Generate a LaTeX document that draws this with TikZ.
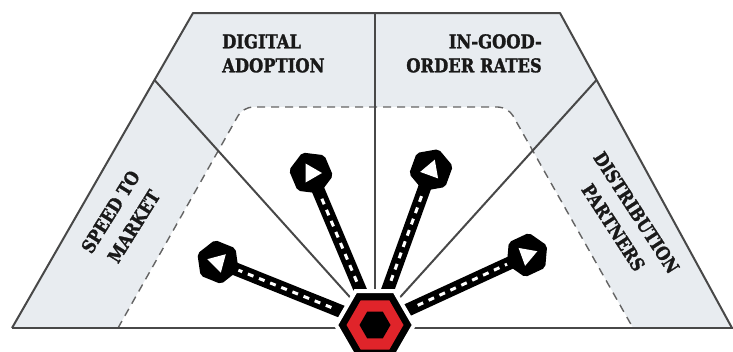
\documentclass[tikz,border=0pt]{standalone}
\usepackage{fontspec}
\newfontfamily\slab{DejaVu Serif}[FakeStretch=0.86, BoldFeatures={FakeBold=1.5}]
\usetikzlibrary{shapes.geometric,calc}
\definecolor{lineg}{RGB}{72,72,72}
\definecolor{panelg}{RGB}{232,236,240}
\definecolor{dashg}{RGB}{100,100,100}
\definecolor{hubred}{RGB}{224,36,42}
\definecolor{txt}{RGB}{25,25,25}
\begin{document}
\begin{tikzpicture}[x=1pt,y=-1pt,
  edge/.style={draw=lineg, line width=2pt, line join=round},
  dashline/.style={draw=dashg, line width=1.4pt, dash pattern=on 8pt off 6pt},
  lbl/.style={font=\slab\bfseries\fontsize{19}{24}\selectfont, text=txt, inner sep=0pt},
  rlbl/.style={font=\slab\bfseries\fontsize{18.5}{27.5}\selectfont, text=txt, inner sep=0pt, align=center},
  bar/.style={draw=black, line width=13pt},
  bardash/.style={draw=white, line width=3pt, dash pattern=on 6pt off 6pt},
  head/.style={regular polygon, regular polygon sides=6, fill=black, draw=black, line width=3pt, rounded corners=2pt, minimum size=41pt, inner sep=0pt},
  tri/.style={fill=white},
  hubhex/.style={regular polygon, regular polygon sides=6, inner sep=0pt}]
\useasboundingbox (0,0) rectangle (733,351);
% panels
\fill[panelg] (12,328) -- (193,13) -- (560,13) -- (732,328) -- cycle;
\fill[white, rounded corners=10pt] (118,328) -- (243,107) -- (508,107) -- (633,328);
\draw[dashline, rounded corners=10pt] (118,328) -- (243,107) -- (508,107) -- (633,328);
% frame and dividers
\coordinate (hc) at (375,325);
\coordinate (L) at (154.5,80);
\coordinate (T) at (375,13);
\coordinate (R) at (596.5,80);
\draw[edge] (hc) -- (L);
\draw[edge] (hc) -- (T);
\draw[edge] (hc) -- (R);
\draw[edge] (12,328) -- (193,13) -- (560,13) -- (732,328);
\draw[edge] (12,328) -- (733,328);
% labels
\node[lbl, anchor=north west, align=left] (dig) at (222,34) {DIGITAL\\ADOPTION};
\node[lbl, anchor=north east, align=right] (igo) at (542,34) {IN-GOOD-\\ORDER RATES};
\node[rlbl, rotate=58] (spd) at (122,219) {SPEED TO\\MARKET};
\node[rlbl, rotate=-57] (dst) at (625,220) {DISTRIBUTION\\PARTNERS};
% arrows
\coordinate (p1) at (218,262);
\coordinate (p2) at (311,173);
\coordinate (p3) at (431,170);
\coordinate (p4) at (527,255);
\foreach \i in {1,...,4} {
  \draw[bar] (hc) -- (p\i);
  \draw[bardash] ($(hc)!47pt!(p\i)$) -- ($(p\i)!22pt!(hc)$);
}
\node[head, rotate=158] (h1) at (p1) {};
\node[head, rotate=113] (h2) at (p2) {};
\node[head, rotate=70] (h3) at (p3) {};
\node[head, rotate=25] (h4) at (p4) {};
% white triangles (polar angle a points visually to -a because y is flipped)
\foreach \i/\a in {1/75, 2/0, 3/170, 4/100} {
  \fill[tri] ($(p\i)+(\a:11)$) -- ($(p\i)+(\a+120:11)$) -- ($(p\i)+(\a+240:11)$) -- cycle;
}
% hub
\node[hubhex, fill=black, draw=white, line width=4pt, minimum size=78pt] (hub) at (hc) {};
\node[hubhex, fill=hubred, minimum size=57pt] (hubr) at (hc) {};
\node[hubhex, fill=black, minimum size=31pt] (hubc) at (hc) {};
\end{tikzpicture}
\end{document}
